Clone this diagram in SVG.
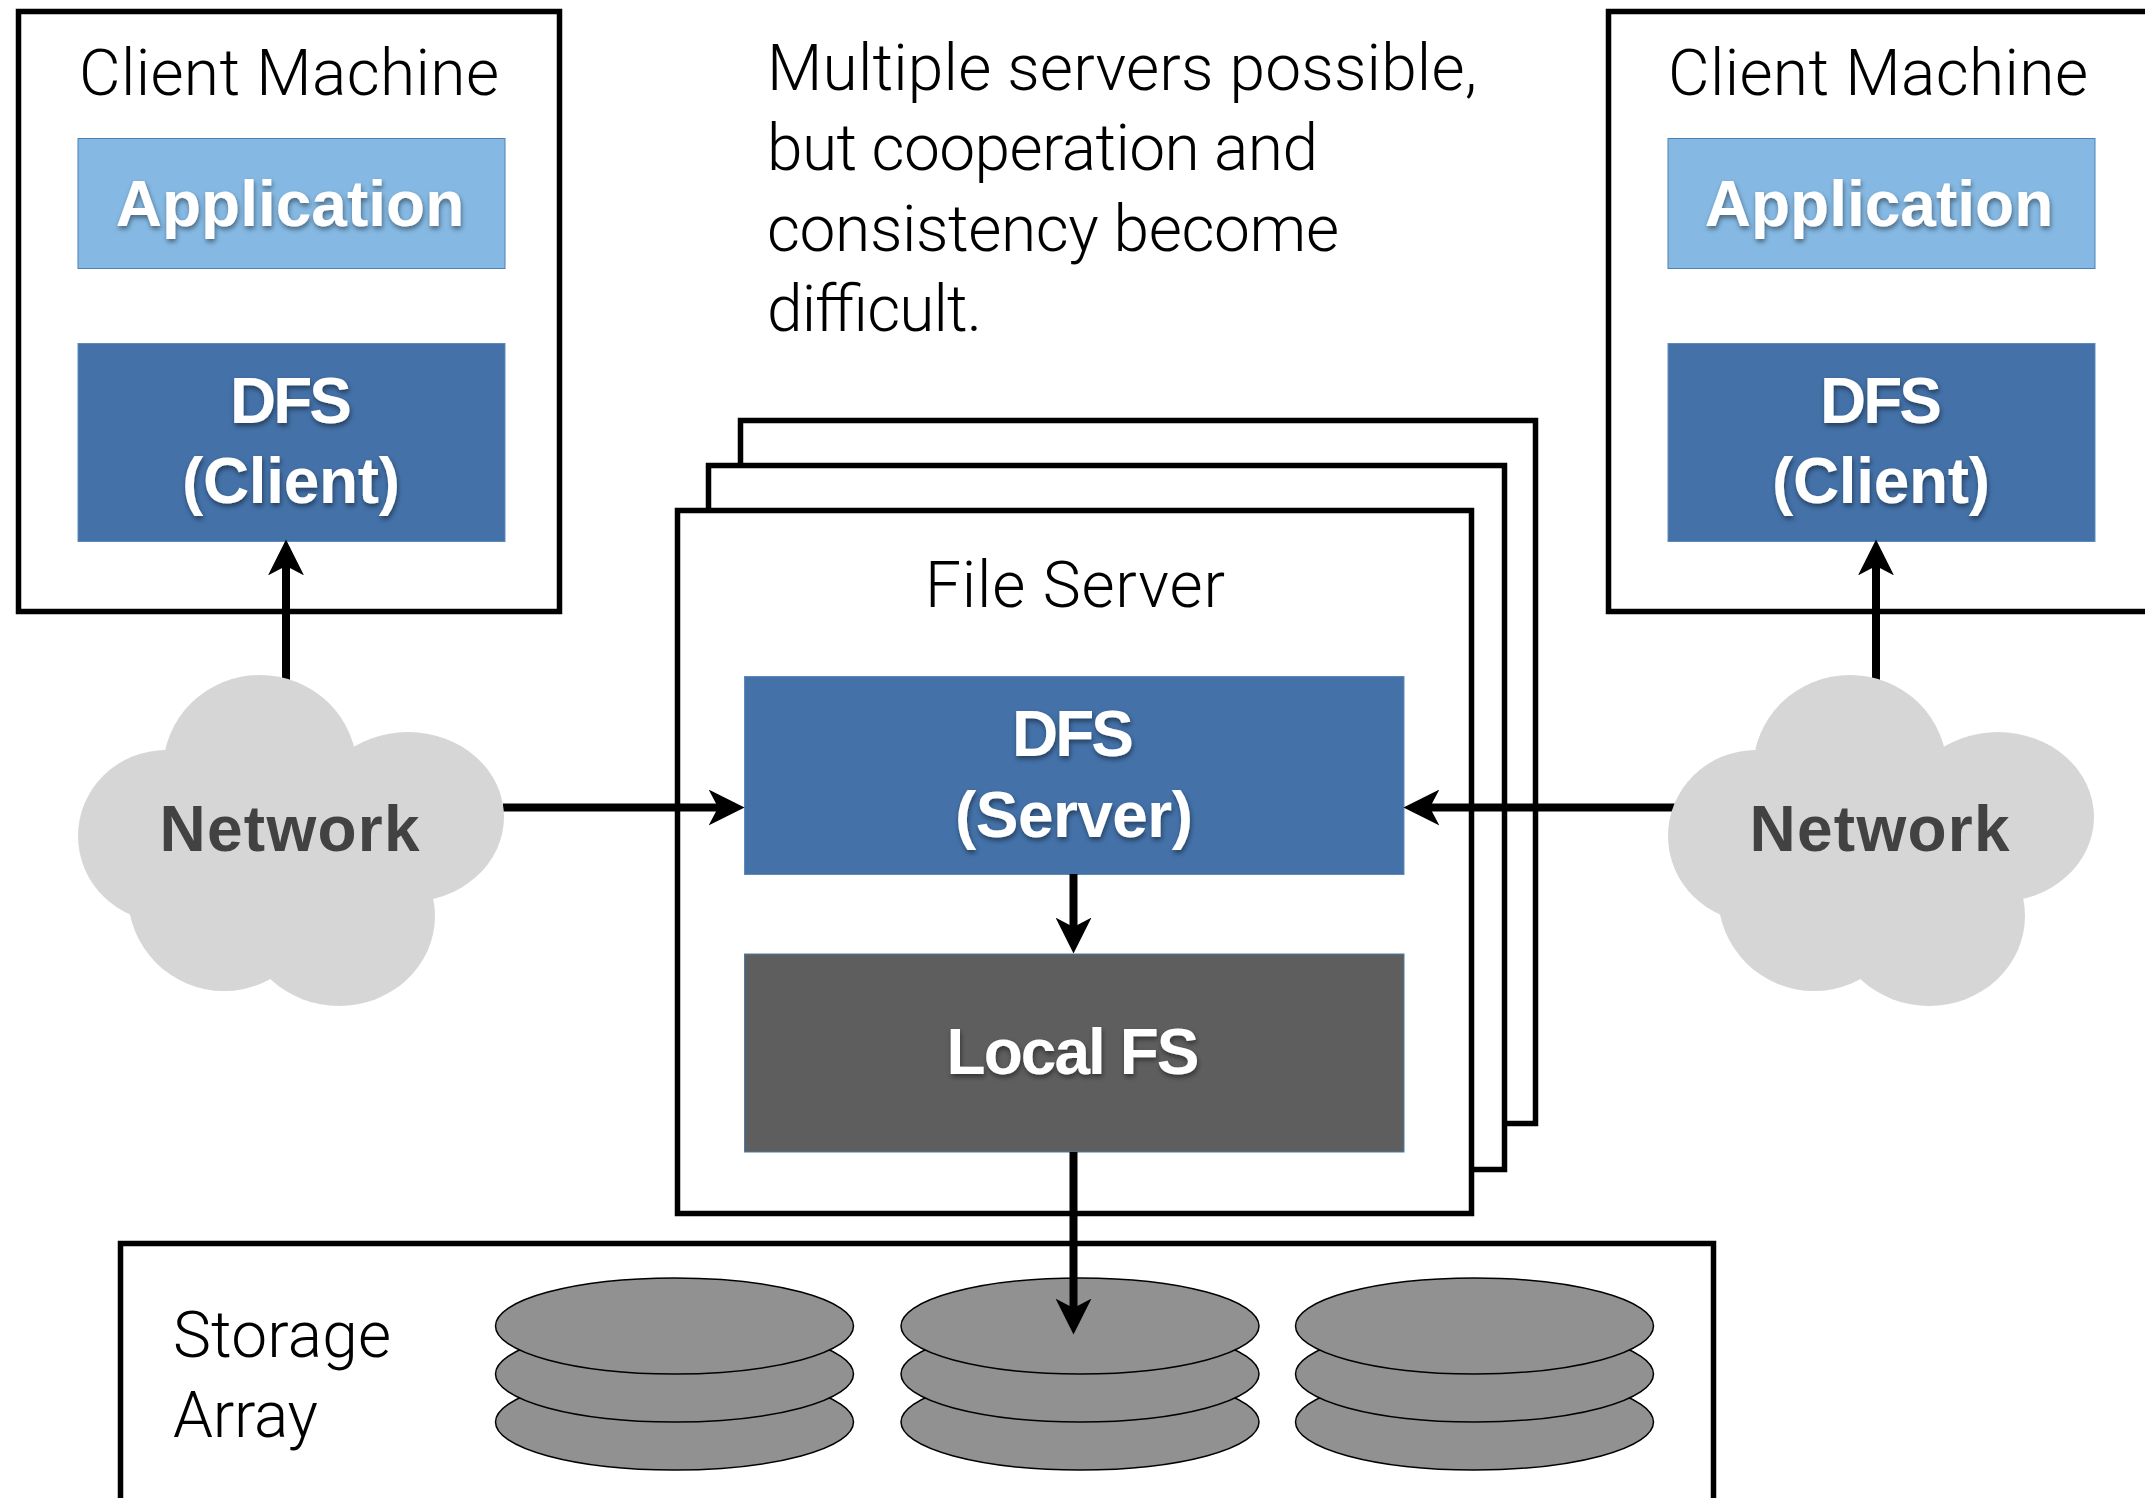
<svg xmlns="http://www.w3.org/2000/svg" width="2145" height="1498" viewBox="0 0 2145 1498">
<style>
.frame{fill:#fff;stroke:#000;stroke-width:5.5}
.light{font-family:"Roboto","Liberation Sans",sans-serif;font-weight:300;font-size:64px;fill:#000}
.bold{font-family:"Liberation Sans",Arial,sans-serif;font-weight:700;font-size:64px;text-anchor:middle}
.w{fill:#fff;filter:url(#shadow)}
.net{fill:#424242}
.app{fill:#85B9E3;stroke:#4C82B4;stroke-width:1}
.dfs{fill:#4371A8;stroke:#5C8BBB;stroke-width:1}
.fs{fill:#5E5E5E;stroke:#4C7CA8;stroke-width:1}
.disk{fill:#919191;stroke:#000;stroke-width:1.5}
.cloud{fill:#D6D6D6}
.conn{fill:none;stroke:#000;stroke-width:8;marker-end:url(#head)}
</style>
<defs>
<filter id="shadow" x="-10%" y="-20%" width="120%" height="150%"><feDropShadow dx="1" dy="3" stdDeviation="2.500" flood-color="#000" flood-opacity="0.45"/></filter>
<marker id="head" markerUnits="userSpaceOnUse" markerWidth="36" markerHeight="36" viewBox="0 0 34 34" refX="24" refY="17" orient="auto"><path d="M34 17L0 0L9 17L0 34Z" fill="#000"/></marker>
<g id="cloudshape"><ellipse cx="260" cy="770" rx="97" ry="95"/><ellipse cx="408" cy="817" rx="96" ry="85"/><ellipse cx="339" cy="916" rx="96" ry="90"/><ellipse cx="224" cy="895" rx="96" ry="96"/><ellipse cx="166" cy="836" rx="88" ry="86"/><ellipse cx="290" cy="840" rx="110" ry="100"/></g>
</defs>
<rect width="2145" height="1498" fill="#fff"/>
<g id="client-left">
<rect class="frame" x="18.500" y="11.500" width="541" height="600"/>
<text class="light" x="79" y="95" textLength="420">Client Machine</text>
<g id="app-left"><rect class="app" x="78" y="138.500" width="427" height="130"/><text class="bold w" x="290" y="226">Application</text></g>
<g id="dfs-client-left"><rect class="dfs" x="78" y="343.500" width="427" height="198"/><text class="bold w" x="291" y="423" textLength="122">DFS</text><text class="bold w" x="291" y="503" textLength="218">(Client)</text></g>
</g>
<g id="client-right">
<rect class="frame" x="1608.500" y="11.500" width="541" height="600"/>
<text class="light" x="1668" y="95" textLength="420">Client Machine</text>
<g id="app-right"><rect class="app" x="1668" y="138.500" width="427" height="130"/><text class="bold w" x="1879" y="226">Application</text></g>
<g id="dfs-client-right"><rect class="dfs" x="1668" y="343.500" width="427" height="198"/><text class="bold w" x="1881" y="423" textLength="122">DFS</text><text class="bold w" x="1881" y="503" textLength="218">(Client)</text></g>
</g>
<g id="note">
<text class="light" x="767" y="90" textLength="710">Multiple servers possible,</text>
<text class="light" x="767" y="170" textLength="551">but cooperation and</text>
<text class="light" x="767" y="250.500" textLength="572">consistency become</text>
<text class="light" x="767" y="331" textLength="215">difficult.</text>
</g>
<g id="file-server">
<rect class="frame" x="740.500" y="420.500" width="795" height="703"/>
<rect class="frame" x="708.500" y="465.500" width="796" height="704"/>
<rect class="frame" x="677.500" y="510.500" width="794" height="703"/>
<text class="light" x="925" y="607" textLength="300">File Server</text>
<g id="dfs-server"><rect class="dfs" x="744.500" y="676.500" width="659.500" height="198"/><text class="bold w" x="1073" y="756" textLength="122">DFS</text><text class="bold w" x="1074" y="836.500" textLength="238">(Server)</text></g>
<g id="local-fs"><rect class="fs" x="744.500" y="954" width="659.500" height="198"/><text class="bold w" x="1073" y="1073.500" textLength="253">Local FS</text></g>
</g>
<g id="storage-array">
<rect class="frame" x="120.500" y="1243.500" width="1593" height="300"/>
<text class="light" x="173" y="1356.500" textLength="218">Storage</text>
<text class="light" x="173" y="1437" textLength="145">Array</text>
<g id="disk-1"><ellipse class="disk" cx="674.500" cy="1422" rx="179" ry="48"/><ellipse class="disk" cx="674.500" cy="1374" rx="179" ry="48"/><ellipse class="disk" cx="674.500" cy="1326" rx="179" ry="48"/></g>
<g id="disk-2"><ellipse class="disk" cx="1080" cy="1422" rx="179" ry="48"/><ellipse class="disk" cx="1080" cy="1374" rx="179" ry="48"/><ellipse class="disk" cx="1080" cy="1326" rx="179" ry="48"/></g>
<g id="disk-3"><ellipse class="disk" cx="1474.500" cy="1422" rx="179" ry="48"/><ellipse class="disk" cx="1474.500" cy="1374" rx="179" ry="48"/><ellipse class="disk" cx="1474.500" cy="1326" rx="179" ry="48"/></g>
</g>
<g id="connectors">
<path class="conn" d="M286 685V550"/>
<path class="conn" d="M1876 685V550"/>
<path class="conn" d="M503 807.500H734"/>
<path class="conn" d="M1680 807.500H1414"/>
<path class="conn" d="M1073.500 874V943"/>
<path class="conn" d="M1073.500 1152V1324"/>
</g>
<g id="network-left"><use href="#cloudshape" class="cloud"/><text class="bold net" x="289.500" y="851" textLength="260">Network</text></g>
<g id="network-right"><use href="#cloudshape" class="cloud" x="1590"/><text class="bold net" x="1879.500" y="851" textLength="260">Network</text></g>
</svg>
